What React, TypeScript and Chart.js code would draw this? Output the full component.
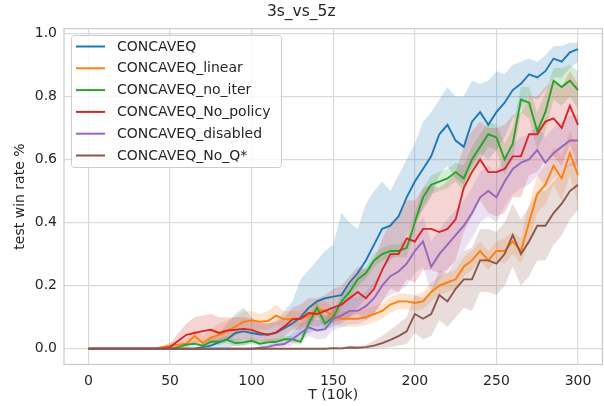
import React, { useEffect, useRef } from "react";
import { Chart, registerables } from "chart.js";

Chart.register(...registerables);

const T = [
  0, 5, 10, 15, 20, 25, 30, 35, 40, 45,
  50, 55, 60, 65, 70, 75, 80, 85, 90, 95,
  100, 105, 110, 115, 120, 125, 130, 135, 140, 145,
  150, 155, 160, 165, 170, 175, 180, 185, 190, 195,
  200, 205, 210, 215, 220, 225, 230, 235, 240, 245,
  250, 255, 260, 265, 270, 275, 280, 285, 290, 295,
  300,
];

const X_TICKS = [0, 50, 100, 150, 200, 250, 300];
const Y_TICKS = [0.0, 0.2, 0.4, 0.6, 0.8, 1.0];

// CONCAVEQ
const concaveqMean = [
  0, 0, 0, 0, 0, 0, 0, 0, 0, 0,
  0, 0, 0, 0, 0.005, 0.01, 0.02, 0.03, 0.05, 0.055,
  0.05, 0.045, 0.045, 0.05, 0.065, 0.08, 0.1, 0.13, 0.15, 0.16,
  0.165, 0.17, 0.21, 0.24, 0.28, 0.33, 0.38, 0.39, 0.42, 0.48,
  0.53, 0.57, 0.61, 0.68, 0.71, 0.66, 0.64, 0.72, 0.75, 0.71,
  0.75, 0.78, 0.82, 0.84, 0.87, 0.86, 0.88, 0.92, 0.91, 0.94,
  0.95,
];
const concaveqHi = [
  0, 0, 0, 0, 0, 0, 0, 0, 0, 0,
  0, 0, 0, 0, 0.01, 0.03, 0.05, 0.08, 0.11, 0.13,
  0.1, 0.08, 0.08, 0.09, 0.12, 0.15, 0.22, 0.25, 0.28, 0.31,
  0.33, 0.43, 0.4, 0.38, 0.46, 0.5, 0.53, 0.5, 0.55, 0.6,
  0.65, 0.72, 0.75, 0.79, 0.83, 0.8, 0.8, 0.85, 0.84, 0.85,
  0.88, 0.87, 0.9, 0.91, 0.92, 0.91, 0.93, 0.96, 0.96, 0.97,
  0.97,
];
const concaveqLo = [
  0, 0, 0, 0, 0, 0, 0, 0, 0, 0,
  0, 0, 0, 0, 0, 0, 0, 0, 0.01, 0.01,
  0.02, 0.02, 0.02, 0.02, 0.03, 0.03, 0.04, 0.05, 0.06, 0.06,
  0.07, 0.08, 0.1, 0.13, 0.16, 0.2, 0.25, 0.28, 0.31, 0.36,
  0.41, 0.44, 0.48, 0.55, 0.58, 0.54, 0.52, 0.58, 0.62, 0.6,
  0.63, 0.67, 0.73, 0.76, 0.8, 0.79, 0.82, 0.86, 0.86, 0.89,
  0.91,
];

// CONCAVEQ_linear
const linearMean = [
  0, 0, 0, 0, 0, 0, 0, 0, 0, 0.005,
  0.01, 0.013, 0.016, 0.04, 0.018, 0.035, 0.044, 0.055, 0.07, 0.085,
  0.09, 0.086, 0.088, 0.105, 0.093, 0.095, 0.095, 0.105, 0.125, 0.12,
  0.105, 0.095, 0.095, 0.095, 0.1, 0.11, 0.12, 0.14, 0.15, 0.15,
  0.145, 0.15, 0.18, 0.2, 0.21, 0.22, 0.26, 0.28, 0.31, 0.28,
  0.31, 0.31, 0.34, 0.31, 0.4, 0.49, 0.52, 0.58, 0.54, 0.62,
  0.55,
];
const linearHi = [
  0, 0, 0, 0, 0, 0, 0, 0, 0, 0.01,
  0.02, 0.025, 0.03, 0.06, 0.04, 0.06, 0.08, 0.09, 0.1, 0.12,
  0.12, 0.11, 0.12, 0.14, 0.12, 0.12, 0.12, 0.13, 0.15, 0.15,
  0.13, 0.12, 0.12, 0.12, 0.125, 0.135, 0.145, 0.165, 0.175, 0.175,
  0.17, 0.18, 0.21, 0.23, 0.24, 0.25, 0.29, 0.31, 0.34, 0.31,
  0.34, 0.35, 0.37, 0.35, 0.46, 0.55, 0.58, 0.64, 0.61, 0.69,
  0.64,
];
const linearLo = [
  0, 0, 0, 0, 0, 0, 0, 0, 0, 0,
  0.002, 0.004, 0.005, 0.02, 0.005, 0.015, 0.02, 0.03, 0.04, 0.055,
  0.06, 0.06, 0.06, 0.075, 0.07, 0.07, 0.07, 0.08, 0.1, 0.095,
  0.08, 0.07, 0.07, 0.07, 0.075, 0.085, 0.095, 0.115, 0.125, 0.125,
  0.12, 0.125, 0.15, 0.17, 0.18, 0.19, 0.23, 0.25, 0.28, 0.25,
  0.28, 0.27, 0.3, 0.27, 0.34, 0.43, 0.46, 0.52, 0.47, 0.55,
  0.46,
];

// CONCAVEQ_no_iter
const noIterMean = [
  0, 0, 0, 0, 0, 0, 0, 0, 0, 0,
  0, 0.005, 0.013, 0.016, 0.01, 0.022, 0.022, 0.028, 0.018, 0.02,
  0.025, 0.016, 0.02, 0.022, 0.03, 0.03, 0.022, 0.08, 0.13, 0.08,
  0.1, 0.15, 0.18, 0.22, 0.24, 0.28, 0.3, 0.31, 0.31, 0.32,
  0.4, 0.48, 0.52, 0.53, 0.54, 0.56, 0.54, 0.6, 0.64, 0.68,
  0.67, 0.6, 0.65, 0.79, 0.78, 0.69, 0.75, 0.85, 0.83, 0.85,
  0.82,
];
const noIterHi = [
  0, 0, 0, 0, 0, 0, 0, 0, 0, 0,
  0, 0.01, 0.02, 0.025, 0.02, 0.032, 0.032, 0.04, 0.03, 0.03,
  0.035, 0.026, 0.03, 0.032, 0.04, 0.04, 0.035, 0.1, 0.15, 0.1,
  0.12, 0.17, 0.2, 0.24, 0.26, 0.3, 0.32, 0.33, 0.33, 0.35,
  0.43, 0.51, 0.55, 0.56, 0.57, 0.59, 0.58, 0.64, 0.68, 0.72,
  0.71, 0.65, 0.7, 0.83, 0.83, 0.75, 0.81, 0.89, 0.89, 0.9,
  0.88,
];
const noIterLo = [
  0, 0, 0, 0, 0, 0, 0, 0, 0, 0,
  0, 0, 0.005, 0.008, 0.003, 0.012, 0.012, 0.018, 0.008, 0.01,
  0.015, 0.008, 0.01, 0.012, 0.02, 0.02, 0.012, 0.06, 0.11, 0.06,
  0.08, 0.13, 0.16, 0.2, 0.22, 0.26, 0.28, 0.29, 0.29, 0.29,
  0.37, 0.45, 0.49, 0.5, 0.51, 0.53, 0.5, 0.56, 0.6, 0.64,
  0.63, 0.55, 0.6, 0.75, 0.73, 0.63, 0.69, 0.79, 0.77, 0.8,
  0.76,
];

// CONCAVEQ_No_policy
const noPolicyMean = [
  0, 0, 0, 0, 0, 0, 0, 0, 0, 0,
  0.005, 0.025, 0.044, 0.05, 0.056, 0.06, 0.05, 0.058, 0.06, 0.063,
  0.06, 0.05, 0.044, 0.052, 0.07, 0.093, 0.095, 0.113, 0.11, 0.12,
  0.13, 0.14, 0.16, 0.18, 0.16, 0.19, 0.25, 0.3, 0.3, 0.35,
  0.34, 0.38, 0.38, 0.37, 0.38, 0.41, 0.51, 0.56, 0.6, 0.56,
  0.56, 0.57, 0.61, 0.61, 0.68, 0.68, 0.72, 0.73, 0.7, 0.77,
  0.71,
];
const noPolicyHi = [
  0, 0, 0, 0, 0, 0, 0, 0, 0, 0,
  0.015, 0.05, 0.08, 0.1, 0.105, 0.11, 0.1, 0.1, 0.1, 0.1,
  0.095, 0.085, 0.08, 0.085, 0.1, 0.13, 0.14, 0.16, 0.16, 0.17,
  0.19, 0.2, 0.23, 0.26, 0.25, 0.28, 0.35, 0.4, 0.42, 0.47,
  0.47, 0.51, 0.52, 0.51, 0.53, 0.56, 0.64, 0.69, 0.72, 0.7,
  0.7, 0.71, 0.74, 0.75, 0.8, 0.8, 0.83, 0.85, 0.83, 0.88,
  0.84,
];
const noPolicyLo = [
  0, 0, 0, 0, 0, 0, 0, 0, 0, 0,
  0, 0.005, 0.015, 0.02, 0.02, 0.025, 0.02, 0.025, 0.025, 0.03,
  0.03, 0.025, 0.02, 0.025, 0.04, 0.06, 0.06, 0.075, 0.07, 0.08,
  0.085, 0.09, 0.1, 0.11, 0.09, 0.11, 0.15, 0.19, 0.18, 0.22,
  0.21, 0.25, 0.25, 0.24, 0.25, 0.28, 0.37, 0.42, 0.47, 0.43,
  0.42, 0.43, 0.48, 0.48, 0.55, 0.56, 0.6, 0.61, 0.58, 0.65,
  0.58,
];

// CONCAVEQ_disabled
const disabledMean = [
  0, 0, 0, 0, 0, 0, 0, 0, 0, 0,
  0, 0, 0, 0, 0, 0, 0, 0, 0, 0,
  0, 0.003, 0.006, 0.012, 0.015, 0.03, 0.05, 0.068, 0.058, 0.062,
  0.095, 0.105, 0.12, 0.12, 0.135, 0.16, 0.2, 0.23, 0.245, 0.27,
  0.31, 0.34, 0.26, 0.3, 0.33, 0.36, 0.39, 0.43, 0.48, 0.5,
  0.48, 0.53, 0.57, 0.59, 0.6, 0.63, 0.59, 0.62, 0.64, 0.66,
  0.66,
];
const disabledHi = [
  0, 0, 0, 0, 0, 0, 0, 0, 0, 0,
  0, 0, 0, 0, 0, 0, 0, 0, 0, 0,
  0, 0.006, 0.012, 0.022, 0.028, 0.05, 0.08, 0.1, 0.09, 0.095,
  0.13, 0.145, 0.165, 0.165, 0.18, 0.21, 0.25, 0.29, 0.31, 0.34,
  0.38, 0.42, 0.34, 0.38, 0.41, 0.44, 0.47, 0.51, 0.56, 0.58,
  0.56, 0.61, 0.65, 0.67, 0.68, 0.71, 0.67, 0.7, 0.72, 0.74,
  0.74,
];
const disabledLo = [
  0, 0, 0, 0, 0, 0, 0, 0, 0, 0,
  0, 0, 0, 0, 0, 0, 0, 0, 0, 0,
  0, 0, 0.001, 0.003, 0.004, 0.012, 0.025, 0.04, 0.03, 0.032,
  0.06, 0.068, 0.078, 0.078, 0.09, 0.11, 0.15, 0.17, 0.18, 0.2,
  0.24, 0.26, 0.18, 0.22, 0.25, 0.28, 0.31, 0.35, 0.4, 0.42,
  0.4, 0.45, 0.49, 0.51, 0.52, 0.55, 0.51, 0.54, 0.56, 0.58,
  0.58,
];

// CONCAVEQ_No_Q*
const noQMean = [
  0, 0, 0, 0, 0, 0, 0, 0, 0, 0,
  0, 0, 0, 0, 0, 0, 0, 0, 0, 0,
  0, 0, 0, 0, 0, 0, 0, 0, 0, 0,
  0.002, 0.001, 0.004, 0.003, 0.005, 0.01, 0.018, 0.028, 0.04, 0.055,
  0.11, 0.095, 0.11, 0.17, 0.15, 0.19, 0.22, 0.22, 0.28, 0.28,
  0.27, 0.3, 0.36, 0.3, 0.34, 0.39, 0.39, 0.43, 0.46, 0.5,
  0.52,
];
const noQHi = [
  0, 0, 0, 0, 0, 0, 0, 0, 0, 0,
  0, 0, 0, 0, 0, 0, 0, 0, 0, 0,
  0, 0, 0, 0, 0, 0, 0, 0, 0, 0,
  0.005, 0.003, 0.01, 0.008, 0.013, 0.025, 0.04, 0.06, 0.08, 0.1,
  0.17, 0.16, 0.18, 0.25, 0.24, 0.28, 0.31, 0.32, 0.38, 0.38,
  0.37, 0.4, 0.46, 0.41, 0.45, 0.5, 0.5, 0.53, 0.56, 0.59,
  0.6,
];
const noQLo = [
  0, 0, 0, 0, 0, 0, 0, 0, 0, 0,
  0, 0, 0, 0, 0, 0, 0, 0, 0, 0,
  0, 0, 0, 0, 0, 0, 0, 0, 0, 0,
  0, 0, 0, 0, 0, 0, 0.002, 0.005, 0.01, 0.015,
  0.05, 0.03, 0.04, 0.09, 0.07, 0.1, 0.13, 0.12, 0.18, 0.18,
  0.17, 0.2, 0.26, 0.2, 0.23, 0.28, 0.28, 0.33, 0.36, 0.41,
  0.44,
];

const LABELS = [
  "CONCAVEQ",
  "CONCAVEQ_linear",
  "CONCAVEQ_no_iter",
  "CONCAVEQ_No_policy",
  "CONCAVEQ_disabled",
  "CONCAVEQ_No_Q*",
];
const COLORS = ["#1f77b4", "#ff7f0e", "#2ca02c", "#d62728", "#9467bd", "#8c564b"];
const FILLS = [
  "rgba(31,119,180,0.2)",
  "rgba(255,127,14,0.2)",
  "rgba(44,160,44,0.2)",
  "rgba(214,39,40,0.2)",
  "rgba(148,103,189,0.2)",
  "rgba(140,86,75,0.2)",
];
const MEANS = [concaveqMean, linearMean, noIterMean, noPolicyMean, disabledMean, noQMean];
const HIS = [concaveqHi, linearHi, noIterHi, noPolicyHi, disabledHi, noQHi];
const LOS = [concaveqLo, linearLo, noIterLo, noPolicyLo, disabledLo, noQLo];

const FONT = "'DejaVu Sans', 'Liberation Sans', sans-serif";
const TEXT = "#262626";
const GRID = "#dadada";

const pts = (ys: number[]) => ys.map((y, i) => ({ x: T[i], y }));

const framePlugin = {
  id: "frame",
  afterDatasetsDraw(chart: any) {
    const { ctx, chartArea: a } = chart;
    ctx.save();
    ctx.strokeStyle = "#cccccc";
    ctx.lineWidth = 1.25;
    ctx.strokeRect(a.left, a.top, a.right - a.left, a.bottom - a.top);
    ctx.restore();
  },
};

const legendPlugin = {
  id: "boxLegend",
  afterDraw(chart: any) {
    const { ctx } = chart;
    ctx.save();
    const x0 = 71.5, y0 = 35.5, w = 210, h = 132, r = 3;
    ctx.beginPath();
    ctx.moveTo(x0 + r, y0);
    ctx.lineTo(x0 + w - r, y0);
    ctx.arcTo(x0 + w, y0, x0 + w, y0 + r, r);
    ctx.lineTo(x0 + w, y0 + h - r);
    ctx.arcTo(x0 + w, y0 + h, x0 + w - r, y0 + h, r);
    ctx.lineTo(x0 + r, y0 + h);
    ctx.arcTo(x0, y0 + h, x0, y0 + h - r, r);
    ctx.lineTo(x0, y0 + r);
    ctx.arcTo(x0, y0, x0 + r, y0, r);
    ctx.closePath();
    ctx.fillStyle = "rgba(255,255,255,0.8)";
    ctx.fill();
    ctx.strokeStyle = "#cccccc";
    ctx.lineWidth = 1;
    ctx.stroke();
    ctx.font = `14px ${FONT}`;
    ctx.textBaseline = "middle";
    ctx.textAlign = "left";
    LABELS.forEach((lab, i) => {
      const y = 46.5 + i * 21.8;
      ctx.strokeStyle = COLORS[i];
      ctx.lineWidth = 2;
      ctx.beginPath();
      ctx.moveTo(76, y);
      ctx.lineTo(105, y);
      ctx.stroke();
      ctx.fillStyle = TEXT;
      ctx.fillText(lab, 117, y + 0.5);
    });
    ctx.restore();
  },
};

export default function App() {
  const ref = useRef<HTMLCanvasElement | null>(null);
  useEffect(() => {
    document.body.style.margin = "0";
    if (!ref.current) return;
    const datasets: any[] = [];
    for (let s = 0; s < 6; s++) {
      datasets.push({
        label: LABELS[s] + " lo",
        data: pts(LOS[s]),
        borderWidth: 0,
        pointRadius: 0,
        fill: false,
        order: 20 - s,
      });
      datasets.push({
        label: LABELS[s] + " hi",
        data: pts(HIS[s]),
        borderWidth: 0,
        pointRadius: 0,
        backgroundColor: FILLS[s],
        fill: "-1",
        order: 20 - s,
      });
    }
    for (let s = 0; s < 6; s++) {
      datasets.push({
        label: LABELS[s],
        data: pts(MEANS[s]),
        borderColor: COLORS[s],
        borderWidth: 1.9,
        pointRadius: 0,
        fill: false,
        tension: 0,
        order: 6 - s,
      });
    }
    const chart = new Chart(ref.current, {
      type: "line",
      data: { datasets },
      options: {
        animation: false,
        responsive: false,
        devicePixelRatio: 1,
        layout: { padding: { left: 0, right: 1.5, top: 0, bottom: 0 } },
        plugins: {
          legend: { display: false },
          tooltip: { enabled: false },
          title: {
            display: true,
            text: "3s_vs_5z",
            color: TEXT,
            font: { family: FONT, size: 15.5, weight: "normal" },
            padding: { top: 3, bottom: 7 },
          },
        },
        scales: {
          x: {
            type: "linear",
            min: -15,
            max: 315,
            afterBuildTicks: (sc: any) => {
              sc.ticks = X_TICKS.map((v) => ({ value: v }));
            },
            afterFit: (sc: any) => {
              sc.height = 41.5;
            },
            ticks: {
              color: TEXT,
              font: { family: FONT, size: 14 },
              padding: 8,
              maxRotation: 0,
              autoSkip: false,
            },
            grid: { color: GRID, lineWidth: 1.2, drawTicks: false },
            border: { display: false },
            title: {
              display: true,
              text: "T (10k)",
              color: TEXT,
              font: { family: FONT, size: 14 },
              padding: { top: 0, bottom: 2 },
            },
          },
          y: {
            type: "linear",
            min: -0.05,
            max: 1.015,
            afterBuildTicks: (sc: any) => {
              sc.ticks = Y_TICKS.map((v) => ({ value: v }));
            },
            afterFit: (sc: any) => {
              sc.width = 64;
            },
            ticks: {
              color: TEXT,
              font: { family: FONT, size: 14 },
              padding: 7,
              autoSkip: false,
              callback: (v: any) => Number(v).toFixed(1),
            },
            grid: { color: GRID, lineWidth: 1.2, drawTicks: false },
            border: { display: false },
            title: {
              display: true,
              text: "test win rate %",
              color: TEXT,
              font: { family: FONT, size: 14 },
              padding: { top: 11.5, bottom: 0 },
            },
          },
        },
      },
      plugins: [framePlugin, legendPlugin],
    });
    return () => chart.destroy();
  }, []);
  return (
    <div style={{ width: 604, height: 406 }}>
      <canvas ref={ref} width={604} height={406} style={{ display: "block" }} />
    </div>
  );
}
